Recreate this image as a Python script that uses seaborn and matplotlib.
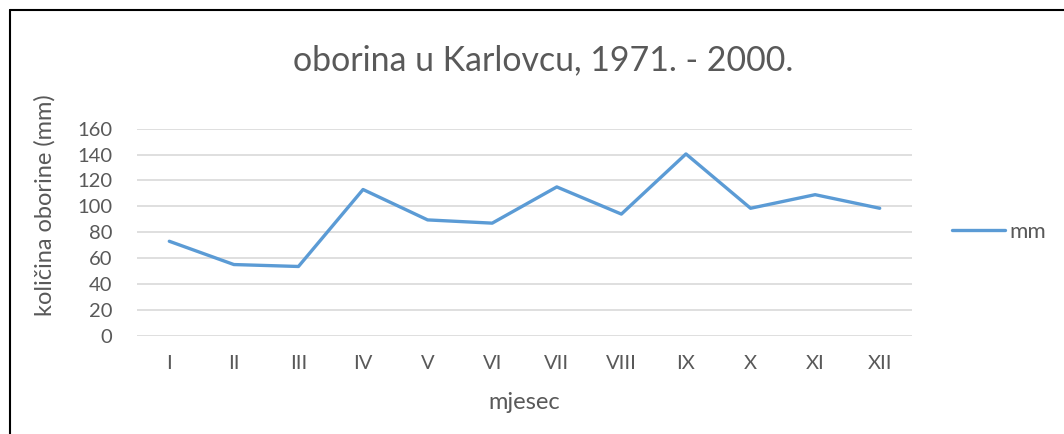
import pandas as pd
import seaborn as sns
import matplotlib.pyplot as plt
from matplotlib.lines import Line2D

# podaci
months = ['I', 'II', 'III', 'IV', 'V', 'VI', 'VII', 'VIII', 'IX', 'X', 'XI', 'XII']
precip_mm = [73, 55, 53.5, 113, 89.5, 87, 115, 94, 140.5, 98.5, 109, 98.5]
y_ticks = [0, 20, 40, 60, 80, 100, 120, 140, 160]

df = pd.DataFrame({'mjesec': months, 'mm': precip_mm})

sns.set_style('white')
plt.rcParams['font.family'] = ['Lato', 'DejaVu Sans']
grey = '#595959'

fig = plt.figure(figsize=(10.64, 4.34), dpi=100)
ax = fig.add_axes([137 / 1064, 1 - 335.7 / 434, (912 - 137) / 1064, 207 / 434])

sns.lineplot(x='mjesec', y='mm', data=df, sort=False, color='#5B9BD5',
             linewidth=2.4, label='mm', ax=ax)

ax.set_xlim(-0.5, len(months) - 0.5)
ax.set_ylim(0, 160)
ax.set_yticks(y_ticks)
ax.yaxis.grid(True, color='#D9D9D9', linewidth=1.2)
ax.set_axisbelow(True)
for s in ax.spines.values():
    s.set_visible(False)
ax.tick_params(axis='both', length=0, labelsize=14.5, labelcolor=grey)
ax.tick_params(axis='y', pad=18)
ax.tick_params(axis='x', pad=14)

ax.set_xlabel('mjesec', fontsize=17, color=grey)
ax.xaxis.label.set_va('center')
ax.xaxis.set_label_coords(0.5, -0.325)
ax.set_ylabel('količina oborine (mm)', fontsize=17, color=grey)
ax.yaxis.label.set_va('center')
ax.yaxis.set_label_coords(-0.119, 0.631)
fig.text(543 / 1064, 1 - 60 / 434, 'oborina u Karlovcu, 1971. - 2000.',
         ha='center', va='center', fontsize=24.4, color=grey)

leg = ax.legend(loc='center left', bbox_to_anchor=(1.0516, 0.5), frameon=False,
                fontsize=16, handlelength=2.4, handletextpad=0.2,
                borderaxespad=0, borderpad=0)
for t in leg.get_texts():
    t.set_color(grey)

# okvir
fig.add_artist(Line2D([10 / 1064, 10 / 1064], [0, 1 - 10 / 434], color='black', linewidth=1.5))
fig.add_artist(Line2D([10 / 1064, 1], [1 - 10 / 434, 1 - 10 / 434], color='black', linewidth=1.5))

fig.savefig('out.png', dpi=100)
